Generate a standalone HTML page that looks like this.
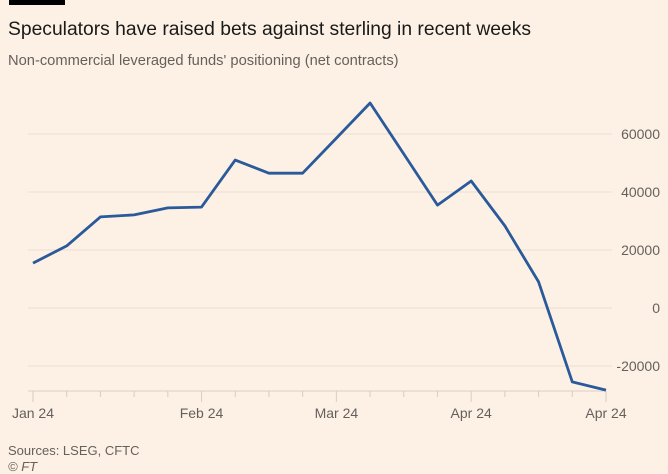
<!DOCTYPE html>
<html><head><meta charset="utf-8"><style>
body{margin:0;background:#fdf1e5;font-family:"Liberation Sans",sans-serif;}
svg{display:block}
</style></head><body>
<svg width="668" height="474" viewBox="0 0 668 474">
<rect x="0" y="0" width="668" height="474" fill="#fdf1e5"/>
<rect x="9" y="0" width="56" height="5" fill="#000"/>
<text x="8" y="35" font-size="19.3" fill="#1a1a1a">Speculators have raised bets against sterling in recent weeks</text>
<text x="8" y="65" font-size="14.7" fill="#66605c">Non-commercial leveraged funds' positioning (net contracts)</text>
<g id="grid"></g>
<g id="xaxis"></g>
<path id="line" fill="none" stroke="#2a5a9a" stroke-width="2.8" stroke-linejoin="round"/>
<text x="8" y="455" font-size="13" fill="#66605c">Sources: LSEG, CFTC</text>
<text x="8" y="471" font-size="13" font-style="italic" fill="#66605c">© FT</text>
</svg>
<script>
const values=[15500,21400,31400,32100,34500,34800,51000,46500,46500,58600,70700,53100,35500,43800,28300,9000,-25500,-28300];
const yTicks=[60000,40000,20000,0,-20000];
const yTickLabels=["60000","40000","20000","0","-20000"];
const xLabels=["Jan 24","Feb 24","Mar 24","Apr 24","Apr 24"];
const xLabelIdx=[0,5,9,13,17];
const NS="http://www.w3.org/2000/svg";
const x0=33,x1=606;
function xs(i){return x0+(x1-x0)*i/(values.length-1);}
function ys(v){return 308-v*58/20000;}
const grid=document.getElementById('grid');
yTicks.forEach((t,k)=>{
 const l=document.createElementNS(NS,'line');
 l.setAttribute('x1',28);l.setAttribute('x2',612);l.setAttribute('y1',ys(t));l.setAttribute('y2',ys(t));
 l.setAttribute('stroke','#ece0d3');l.setAttribute('stroke-width','1');
 
 
 grid.appendChild(l);
 const tx=document.createElementNS(NS,'text');
 tx.setAttribute('x',660);tx.setAttribute('y',ys(t)+5);tx.setAttribute('text-anchor','end');
 tx.setAttribute('font-size','14');tx.setAttribute('fill','#66605c');
 tx.textContent=yTickLabels[k];
 
 
 grid.appendChild(tx);
});
const xa=document.getElementById('xaxis');
const ax=document.createElementNS(NS,'line');
ax.setAttribute('x1',28);ax.setAttribute('x2',606);ax.setAttribute('y1',391);ax.setAttribute('y2',391);
ax.setAttribute('stroke','#e2d6c9');ax.setAttribute('stroke-width','1.2');


xa.appendChild(ax);
values.forEach((v,i)=>{
 const major=xLabelIdx.includes(i);
 const t=document.createElementNS(NS,'line');
 t.setAttribute('x1',xs(i));t.setAttribute('x2',xs(i));t.setAttribute('y1',391);t.setAttribute('y2',major?402:397);
 t.setAttribute('stroke','#d8ccbf');t.setAttribute('stroke-width','1');
 
 
 xa.appendChild(t);
});
xLabelIdx.forEach((idx,k)=>{
 const tx=document.createElementNS(NS,'text');
 tx.setAttribute('x',xs(idx));tx.setAttribute('y',418);tx.setAttribute('text-anchor','middle');
 tx.setAttribute('font-size','14');tx.setAttribute('fill','#66605c');
 tx.textContent=xLabels[k];
 
 
 xa.appendChild(tx);
});
document.getElementById('line').setAttribute('d',values.map((v,i)=>(i?'L':'M')+xs(i).toFixed(1)+','+ys(v).toFixed(1)).join(''));
</script>
</body></html>
